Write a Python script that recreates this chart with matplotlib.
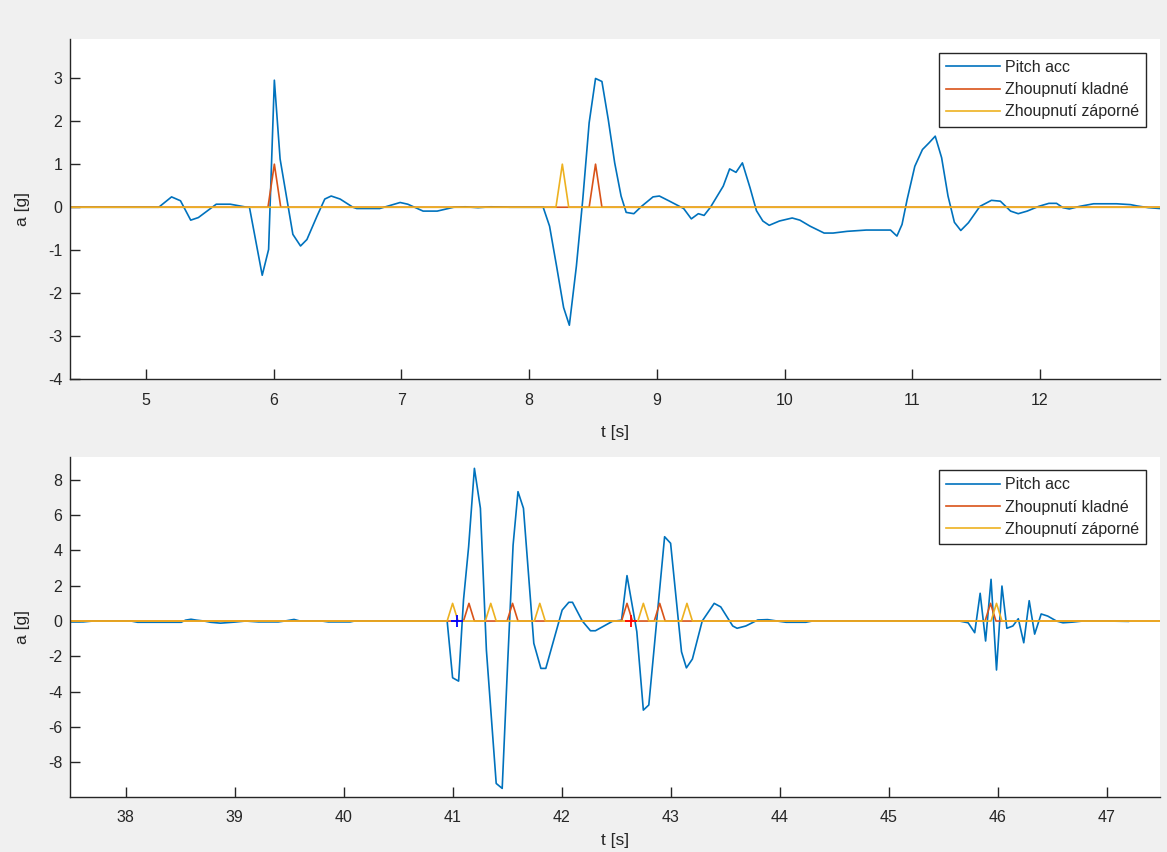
import numpy as np
import matplotlib
matplotlib.use("Agg")
import matplotlib.pyplot as plt

plt.rcParams['font.family'] = ['Liberation Sans', 'DejaVu Sans']
plt.rcParams['axes.unicode_minus'] = False

# --- data ---
# upper panel: pitch acceleration (t [s], a [g])
top_pts = [(4.40, 0), (5.10, 0), (5.20, 0.24), (5.27, 0.15), (5.35, -0.30), (5.41, -0.24),
           (5.55, 0.07), (5.66, 0.07), (5.79, 0), (5.81, 0), (5.91, -1.58), (5.96, -0.98),
           (6.005, 2.95), (6.05, 1.12), (6.15, -0.63), (6.21, -0.90), (6.26, -0.75),
           (6.34, -0.20), (6.40, 0.19), (6.45, 0.26), (6.52, 0.19), (6.62, 0), (6.65, -0.03),
           (6.83, -0.03), (6.99, 0.11), (7.05, 0.07), (7.17, -0.09), (7.28, -0.09), (7.41, 0),
           (7.50, 0.01), (7.60, -0.01), (7.70, 0.01), (7.85, 0), (8.11, 0), (8.16, -0.44),
           (8.215, -1.37), (8.27, -2.33), (8.315, -2.74), (8.37, -1.37), (8.42, 0.18),
           (8.47, 1.96), (8.52, 2.99), (8.57, 2.92), (8.62, 2.03), (8.67, 1.03), (8.72, 0.26),
           (8.76, -0.12), (8.82, -0.15), (8.88, 0.02), (8.97, 0.24), (9.02, 0.26), (9.10, 0.14),
           (9.21, -0.03), (9.27, -0.27), (9.325, -0.15), (9.37, -0.19), (9.42, 0), (9.52, 0.49),
           (9.57, 0.89), (9.62, 0.81), (9.67, 1.03), (9.73, 0.45), (9.78, -0.08), (9.83, -0.32),
           (9.88, -0.42), (9.96, -0.32), (10.06, -0.25), (10.12, -0.30), (10.20, -0.44),
           (10.31, -0.60), (10.38, -0.60), (10.49, -0.56), (10.64, -0.53), (10.83, -0.53),
           (10.88, -0.67), (10.92, -0.40), (10.96, 0.18), (11.02, 0.95), (11.08, 1.34),
           (11.13, 1.49), (11.18, 1.65), (11.23, 1.15), (11.28, 0.26), (11.33, -0.35),
           (11.38, -0.54), (11.44, -0.36), (11.53, 0.02), (11.62, 0.16), (11.69, 0.14),
           (11.77, -0.09), (11.83, -0.15), (11.90, -0.09), (11.99, 0.02), (12.07, 0.09),
           (12.13, 0.09), (12.18, -0.01), (12.23, -0.04), (12.31, 0.02), (12.42, 0.08),
           (12.60, 0.08), (12.71, 0.06), (12.76, 0.03), (12.85, -0.01), (12.94, -0.03)]
top_pos = [6.005, 8.52]      # zhoupnuti kladne
top_neg = [8.26]             # zhoupnuti zaporne

# lower panel
bot_pts = [(37.49, -0.05), (37.61, -0.05), (37.70, 0), (38.05, 0), (38.11, -0.07), (38.51, -0.07),
           (38.55, 0.05), (38.60, 0.10), (38.65, 0.05), (38.72, 0), (38.78, -0.07), (38.87, -0.12),
           (39.00, -0.06), (39.10, 0), (39.22, -0.05), (39.40, -0.05), (39.46, 0), (39.545, 0.09),
           (39.60, 0), (39.80, 0), (39.86, -0.05), (40.06, -0.05), (40.10, 0), (40.95, 0),
           (41.00, -3.21), (41.055, -3.40), (41.10, 1.19), (41.147, 4.20), (41.20, 8.64),
           (41.255, 6.38), (41.31, -1.64), (41.40, -9.19), (41.455, -9.47), (41.505, -2.39),
           (41.555, 4.30), (41.60, 7.32), (41.65, 6.38), (41.745, -1.26), (41.81, -2.68),
           (41.855, -2.68), (42.005, 0.62), (42.066, 1.06), (42.10, 1.06), (42.19, 0),
           (42.265, -0.55), (42.31, -0.55), (42.465, -0.02), (42.55, 0.05), (42.60, 2.57),
           (42.69, -0.60), (42.75, -5.04), (42.80, -4.75), (42.945, 4.77), (43.00, 4.40),
           (43.10, -1.74), (43.145, -2.65), (43.20, -2.15), (43.29, 0), (43.40, 1.00),
           (43.46, 0.80), (43.57, -0.28), (43.61, -0.41), (43.69, -0.28), (43.80, 0.06),
           (43.89, 0.08), (44.00, -0.02), (44.06, -0.07), (44.24, -0.07), (44.30, 0),
           (45.65, 0), (45.73, -0.10), (45.79, -0.66), (45.84, 1.57), (45.89, -1.13),
           (45.94, 2.36), (45.99, -2.77), (46.04, 1.98), (46.085, -0.41), (46.14, -0.28),
           (46.19, 0.13), (46.24, -1.23), (46.29, 1.15), (46.34, -0.74), (46.40, 0.40),
           (46.46, 0.28), (46.54, 0), (46.60, -0.10), (46.69, -0.06), (46.78, 0), (47.00, 0),
           (47.20, -0.02)]
bot_pos = [41.15, 41.55, 42.60, 42.90, 45.935]
bot_neg = [41.00, 41.35, 41.80, 42.75, 43.15, 45.99]
start_mark = (41.04, 0)
end_mark = (42.64, 0)

top_xlim = (4.405, 12.94)
top_ylim = (-4, 3.9)
bot_xlim = (37.49, 47.49)
bot_ylim = (-9.94, 9.30)

labels = ['Pitch acc', 'Zhoupnutí kladné', 'Zhoupnutí záporné']
c_blue, c_orange, c_yellow = '#0072BD', '#D95319', '#EDB120'
ink = '#262626'


def pulses(events, lim, half=0.05):
    # zero signal with a unit sample at each event time
    t = [lim[0]]
    v = [0]
    for e in sorted(events):
        t += [e - half, e, e + half]
        v += [0, 1, 0]
    t.append(lim[1])
    v.append(0)
    return t, v


fig = plt.figure(figsize=(11.67, 8.52), dpi=100, facecolor='#F0F0F0')
ax1 = fig.add_axes([0.060, 0.5546, 0.934, 0.3993])
ax2 = fig.add_axes([0.060, 0.0649, 0.934, 0.3991])


def setup(ax, pts, pos, neg, xlim, ylim, xticks, yticks, xlab_y):
    t, a = zip(*pts)
    ax.plot(t, a, color=c_blue, lw=1.2, label=labels[0])
    tp, vp = pulses(pos, xlim)
    ax.plot(tp, vp, color=c_orange, lw=1.2, label=labels[1])
    tn, vn = pulses(neg, xlim)
    ax.plot(tn, vn, color=c_yellow, lw=1.2, label=labels[2])
    ax.set_xlim(*xlim)
    ax.set_ylim(*ylim)
    ax.set_xticks(xticks)
    ax.set_yticks(yticks)
    for s in ['top', 'right']:
        ax.spines[s].set_visible(False)
    for s in ['left', 'bottom']:
        ax.spines[s].set_color(ink)
        ax.spines[s].set_linewidth(1.0)
    ax.tick_params(direction='in', length=7.5, width=1.0, color=ink,
                   labelcolor=ink, labelsize=11.5)
    ax.tick_params(axis='x', pad=9.5)
    ax.tick_params(axis='y', pad=5.5)
    ax.set_xlabel('t [s]', fontsize=12.5, color=ink)
    ax.set_ylabel('a [g]', fontsize=12.5, color=ink)
    ax.xaxis.set_label_coords(0.5, xlab_y)
    ax.yaxis.set_label_coords(-0.037, 0.5)
    leg = ax.legend(loc='upper right', fontsize=11.5, fancybox=False, framealpha=1,
                    edgecolor=ink, handlelength=3.4, handletextpad=0.3,
                    labelspacing=0.45, borderpad=0.45, borderaxespad=0.85)
    leg.get_frame().set_linewidth(1.0)
    for txt in leg.get_texts():
        txt.set_color(ink)


setup(ax1, top_pts, top_pos, top_neg, top_xlim, top_ylim,
      range(5, 13), range(-4, 4), -0.134)
setup(ax2, bot_pts, bot_pos, bot_neg, bot_xlim, bot_ylim,
      range(38, 48), range(-8, 9, 2), -0.108)

ax2.plot(*start_mark, marker='+', color='b', ms=9, mew=1.3)
ax2.plot(*end_mark, marker='+', color='r', ms=9, mew=1.3)

fig.savefig('out.png', dpi=100, facecolor=fig.get_facecolor())
